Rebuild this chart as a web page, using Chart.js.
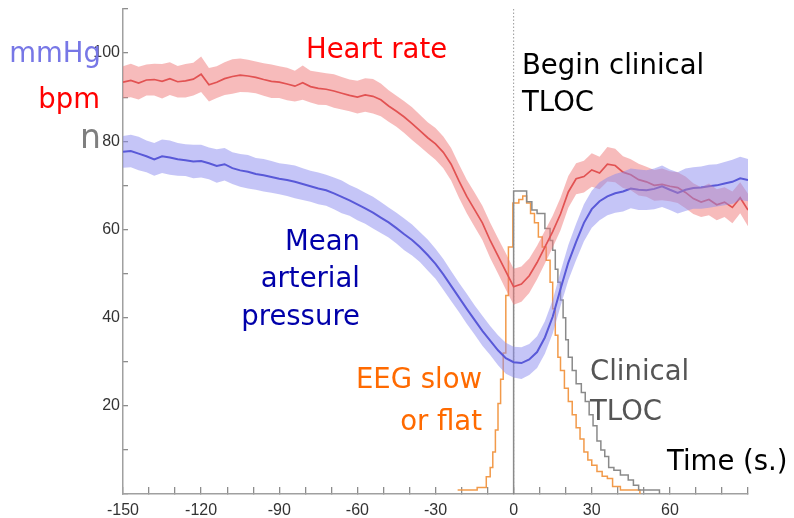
<!DOCTYPE html>
<html>
<head>
<meta charset="utf-8">
<script src="https://cdn.jsdelivr.net/npm/chart.js@4.4.1/dist/chart.umd.min.js"></script>
<style>
  body { margin: 0; background: #fff; }
  #wrap { width: 794px; height: 518px; position: relative; }
</style>
</head>
<body>
<div id="wrap"><canvas id="tlocChart"></canvas></div>
<script>
// Time axis (s) for the averaged traces
const timeSec = [-150,-147,-144,-141,-138,-135,-132,-129,-126,-123,-120,-117,-114,-111,-108,-105,-102,-99,-96,-93,
  -90,-87,-84,-81,-78,-75,-72,-69,-66,-63,-60,-57,-54,-51,-48,-45,-42,-39,-36,-33,
  -30,-27,-24,-21,-18,-15,-12,-9,-6,-3,0,3,6,9,12,15,18,21,24,27,
  30,33,36,39,42,45,48,51,54,57,60,63,66,69,72,75,78,81,84,87,90];

// Heart rate (bpm) mean and spread
const heartRate = [93.4,93.8,93.2,93.9,94.0,93.6,94.2,93.5,93.7,94.1,95.2,92.8,93.4,94.2,94.7,95.0,94.8,94.5,94.0,93.6,
  93.4,93.0,92.5,93.3,92.4,92.0,91.8,91.4,90.9,90.4,90.0,90.5,90.2,89.4,88.0,86.8,85.5,84.0,82.4,80.8,
  79.4,77.5,74.8,71.0,67.5,64.5,61.5,57.5,54.0,50.5,47.0,47.6,49.5,52.5,56.0,59.5,63.5,68.5,71.5,72.0,
  73.5,72.8,74.8,74.5,73.0,72.4,71.3,70.8,70.0,70.2,69.8,69.5,68.4,67.0,66.2,66.8,65.6,66.2,65.0,67.2,64.4];
const heartRateSem = [3.6,3.8,3.7,3.5,3.6,3.9,3.7,3.6,3.8,3.7,4.0,3.8,3.6,3.7,3.9,3.8,3.7,3.6,3.7,3.8,
  3.6,3.7,3.5,3.9,3.6,3.7,3.6,3.8,3.7,3.6,3.7,3.8,3.9,3.7,3.6,3.5,3.6,3.7,3.6,3.5,
  3.6,3.6,3.7,3.8,3.8,3.9,3.9,4.0,4.0,4.1,4.1,4.0,3.9,3.8,3.7,3.6,3.7,3.6,3.5,3.6,
  3.8,3.7,3.9,3.8,3.6,3.5,3.6,3.4,3.5,3.6,3.4,3.5,3.6,3.5,3.4,3.6,3.5,3.4,3.6,3.5,3.7];

// Mean arterial pressure (mmHg) mean and spread
const meanArterial = [77.6,77.8,77.2,76.6,75.9,76.6,76.3,75.9,75.7,75.4,75.5,75.0,74.4,74.8,73.9,73.4,73.1,72.6,72.3,71.9,
  71.5,71.2,70.8,70.3,69.8,69.3,68.9,68.2,67.4,66.6,65.7,64.8,63.8,62.7,61.6,60.3,58.9,57.6,56.0,54.2,
  52.2,49.8,47.2,44.6,42.0,39.5,37.0,34.8,32.6,30.8,29.9,29.7,30.5,32.2,35.5,40.2,46.5,52.5,57.2,61.5,
  64.6,66.4,67.5,68.2,68.6,69.3,69.0,68.9,69.2,69.8,69.0,68.3,69.0,69.4,69.5,69.8,70.0,70.4,70.8,71.6,71.2];
const meanArterialSem = [3.6,3.7,3.8,3.6,3.7,3.8,3.9,3.7,3.6,3.8,3.7,3.6,3.8,3.7,3.6,3.7,3.8,3.6,3.7,3.6,
  3.5,3.6,3.7,3.6,3.5,3.6,3.5,3.6,3.7,3.5,3.6,3.5,3.6,3.5,3.4,3.5,3.6,3.5,3.4,3.5,
  3.4,3.5,3.4,3.3,3.4,3.3,3.4,3.3,3.4,3.5,3.5,3.6,3.5,3.6,3.7,3.8,3.9,4.0,4.1,4.2,
  4.2,4.3,4.3,4.4,4.5,4.5,4.6,4.5,4.6,4.7,4.6,4.7,4.8,4.7,4.8,4.9,4.8,4.9,5.0,4.9,4.8];

// EEG slow or flat: number of patients (step starts)
const eegTime = [-21.5,-14,-10.5,-9,-8,-7,-6,-5,-4,-3,-2,-0.3,2,3.5,5,6.5,8,9.5,11,12.5,
  14,15,16,17,18,19.5,21,22.5,24,25.5,27,28.5,30,32,34,36,38,41,48.5];
const eegCount = [0.9,1.5,3.9,6.0,9.5,14.5,20.5,26,32,45,56,66,66.8,67.6,66,63.6,61.5,58.3,56,53,
  48,42,36,31,28,24,21,18,15,12.5,9.5,7.7,6.5,5.1,4.0,3.5,1.7,0.9,0];

// Clinical TLOC: number of patients (step starts)
const tlocTime = [0,0,5,7,9,12,14,15,16,17,18,19,20,21,22.5,24,26,27.5,29,30.5,
  32,33.5,35,36.5,38.5,41,44,46,48,56];
const tlocCount = [0,68.7,66.3,64.4,63.6,60.2,57.5,55.3,51,48,44,40,35,31,28,25,23,21,18,15.5,
  12,10,8.5,6,5.4,4.3,3.2,2.0,0.9,0];

// Axis tick labels
const xTickLabels = [-150, -120, -90, -60, -30, 0, 30, 60];
const yTickLabels = [20, 40, 60, 80, 100];

const pts = (xs, ys) => xs.map((x, i) => ({ x: x, y: ys[i] }));
const band = (ys, sem, sign) => ys.map((y, i) => ({ x: timeSec[i], y: y + sign * sem[i] }));

const FONT = '"DejaVu Sans", Verdana, sans-serif';

const annotations = {
  id: 'annotations',
  beforeDatasetsDraw(chart) {
    // dotted line at the start of clinical TLOC
    const { ctx, chartArea: a } = chart;
    const x0 = chart.scales.x.getPixelForValue(0);
    ctx.save();
    ctx.strokeStyle = '#9a9a9a';
    ctx.lineWidth = 1;
    ctx.setLineDash([1.5, 2]);
    ctx.beginPath();
    ctx.moveTo(x0, a.top);
    ctx.lineTo(x0, a.bottom);
    ctx.stroke();
    ctx.restore();
  },
  afterDraw(chart) {
    const { ctx } = chart;
    ctx.save();
    const txt = (s, x, y, color, align, size) => {
      ctx.font = (size || 27.5) + 'px ' + FONT;
      ctx.fillStyle = color;
      ctx.textAlign = align;
      ctx.textBaseline = 'alphabetic';
      ctx.fillText(s, x, y);
    };
    txt('mmHg', 101, 62, '#7777e6', 'right');
    txt('bpm', 100, 108, '#ff0000', 'right');
    txt('n', 101, 148, '#7f7f7f', 'right', 33);
    txt('Heart rate', 306, 58, '#ff0000', 'left');
    txt('Begin clinical', 522, 74, '#000000', 'left');
    txt('TLOC', 522, 111, '#000000', 'left');
    txt('Mean', 360, 250, '#0000aa', 'right');
    txt('arterial', 360, 287, '#0000aa', 'right');
    txt('pressure', 360, 325, '#0000aa', 'right');
    txt('EEG slow', 482, 388, '#ff6a00', 'right');
    txt('or flat', 482, 430, '#ff6a00', 'right');
    txt('Clinical', 590, 380, '#555555', 'left');
    txt('TLOC', 590, 420, '#555555', 'left');
    txt('Time (s.)', 667, 470, '#000000', 'left');
    ctx.restore();
  }
};

// inward tick marks: negative tick length, no grid inside the plot
const axisGrid = len => ({ display: true, drawOnChartArea: false, drawTicks: true, tickLength: len, color: '#8c8c8c', lineWidth: 1.3 });
const noEdgePadding = s => { s.paddingTop = 0; s.paddingBottom = 0; s.paddingLeft = 0; s.paddingRight = 0; };

new Chart(document.getElementById('tlocChart'), {
  type: 'line',
  data: {
    datasets: [
      { data: band(meanArterial, meanArterialSem, 1), fill: '+1', backgroundColor: 'rgba(140,140,240,0.5)', borderWidth: 0, pointRadius: 0 },
      { data: band(meanArterial, meanArterialSem, -1), fill: false, borderWidth: 0, pointRadius: 0 },
      { data: band(heartRate, heartRateSem, 1), fill: '+1', backgroundColor: 'rgba(240,120,120,0.5)', borderWidth: 0, pointRadius: 0 },
      { data: band(heartRate, heartRateSem, -1), fill: false, borderWidth: 0, pointRadius: 0 },
      { data: pts(timeSec, meanArterial), borderColor: '#2626c0', borderWidth: 2, pointRadius: 0, fill: false },
      { data: pts(timeSec, heartRate), borderColor: '#d42c2c', borderWidth: 1.7, pointRadius: 0, fill: false },
      { data: pts(tlocTime, tlocCount), borderColor: '#8a8a8a', borderWidth: 1.5, pointRadius: 0, fill: false, stepped: 'before' },
      { data: pts(eegTime, eegCount), borderColor: '#f29a4a', borderWidth: 1.5, pointRadius: 0, fill: false, stepped: 'before' }
    ]
  },
  options: {
    responsive: true,
    maintainAspectRatio: false,
    animation: false,
    layout: { padding: { top: 9, right: 46, left: 0, bottom: 0 } },
    plugins: { legend: { display: false }, tooltip: { enabled: false } },
    scales: {
      x: {
        type: 'linear',
        min: -150,
        max: 90,
        grid: axisGrid(-7),
        border: { display: true, color: '#a0a0a0', width: 1.5 },
        ticks: {
          stepSize: 10,
          autoSkip: false,
          maxRotation: 0,
          padding: 14,
          color: '#333',
          font: { family: 'Liberation Sans', size: 16 },
          callback: v => xTickLabels.includes(Math.round(v)) ? String(Math.round(v)) : ''
        },
        afterFit: s => { s.height = 24; noEdgePadding(s); }
      },
      y: {
        min: 0,
        max: 110,
        grid: axisGrid(-5),
        border: { display: true, color: '#a0a0a0', width: 1.5 },
        ticks: {
          stepSize: 10,
          autoSkip: false,
          padding: 8,
          color: '#333',
          font: { family: 'Liberation Sans', size: 16 },
          callback: v => yTickLabels.includes(Math.round(v)) ? String(Math.round(v)) : ''
        },
        afterFit: s => { s.width = 123; noEdgePadding(s); }
      }
    }
  },
  plugins: [annotations]
});
</script>
</body>
</html>
